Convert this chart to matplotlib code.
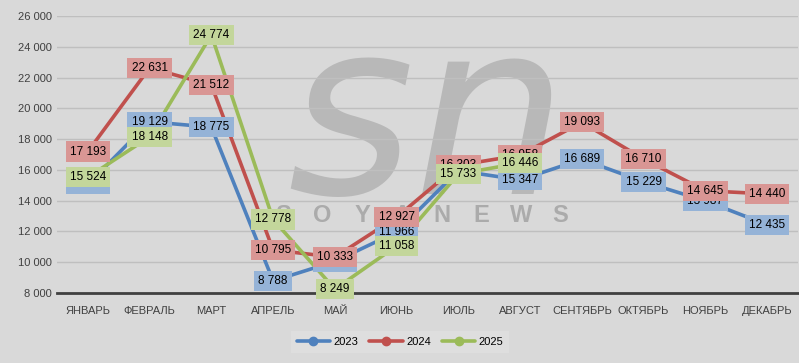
import matplotlib.pyplot as plt

months = ['ЯНВАРЬ', 'ФЕВРАЛЬ', 'МАРТ', 'АПРЕЛЬ', 'МАЙ', 'ИЮНЬ', 'ИЮЛЬ',
          'АВГУСТ', 'СЕНТЯБРЬ', 'ОКТЯБРЬ', 'НОЯБРЬ', 'ДЕКАБРЬ']
y2023 = [15060, 19129, 18775, 8788, 10050, 11966, 15950, 15347, 16689, 15229, 13987, 12435]
y2024 = [17193, 22631, 21512, 10795, 10333, 12927, 16303, 16958, 19093, 16710, 14645, 14440]
y2025 = [15524, 18148, 24774, 12778, 8249, 11058, 15733, 16446]
y_ticks = list(range(8000, 26001, 2000))

series = [
    ('2023', y2023, '#4f81bd', '#95b3d7'),
    ('2024', y2024, '#c0504d', '#d99694'),
    ('2025', y2025, '#9bbb59', '#c3d69b'),
]

bg = '#d9d9d9'
plt.rcParams['font.family'] = ['Liberation Sans', 'DejaVu Sans']

fig = plt.figure(figsize=(7.99, 3.63), dpi=100, facecolor=bg)
ax = fig.add_axes([57 / 799, 1 - 293 / 363, 741 / 799, 277 / 363])
ax.set_facecolor(bg)

# watermark
ax.text(0.50, 0.60, 'sn', transform=ax.transAxes, fontsize=175, fontstyle='italic',
        family='DejaVu Sans', color='#b0b0b0', alpha=0.8, ha='center', va='center', zorder=0)
for k, ch in enumerate('SOYANEWS'):
    ax.text(0.305 + k * 0.0535, 0.28, ch, transform=ax.transAxes, fontsize=17,
            fontweight='bold', color='#a3a3a3', alpha=0.85, ha='center', va='center', zorder=0)

x = list(range(len(months)))
for i, (name, vals, col, light) in enumerate(series):
    xs = x[:len(vals)]
    ax.plot(xs, vals, color=col, lw=2.6, marker='o', ms=8.5, label=name,
            solid_capstyle='round', zorder=3 + i)
for i, (name, vals, col, light) in enumerate(series):
    for xi, v in zip(x, vals):
        ax.text(xi, v, f'{v:,}'.replace(',', ' '), ha='center', va='center',
                fontsize=8.5, color='black', zorder=10 + i,
                bbox=dict(boxstyle='square,pad=0.35', fc=light, ec='none'))

ax.set_xlim(-0.5, len(months) - 0.5)
ax.set_ylim(8000, 26000)
ax.set_yticks(y_ticks)
ax.set_yticklabels([f'{t:,}'.replace(',', ' ') for t in y_ticks])
ax.set_xticks(x)
ax.set_xticklabels(months)
ax.tick_params(axis='both', length=0, labelsize=8, colors='#404040')
ax.tick_params(axis='x', pad=9)
ax.grid(axis='y', color='#bfbfbf', lw=1)
ax.set_axisbelow(True)
for s in ['top', 'right', 'left']:
    ax.spines[s].set_visible(False)
ax.spines['bottom'].set_color('#404040')
ax.spines['bottom'].set_linewidth(2)

leg = fig.legend(loc='center', bbox_to_anchor=(400 / 799, 1 - 342 / 363), ncol=3,
                 fontsize=8, frameon=True, fancybox=False, handlelength=3,
                 columnspacing=1.0, handletextpad=0.3, borderpad=0.5)
leg.get_frame().set_facecolor('#e0e0e0')
leg.get_frame().set_edgecolor('none')
for h in leg.get_lines():
    h.set_markersize(6)

fig.savefig('out.png', dpi=100, facecolor=bg)
